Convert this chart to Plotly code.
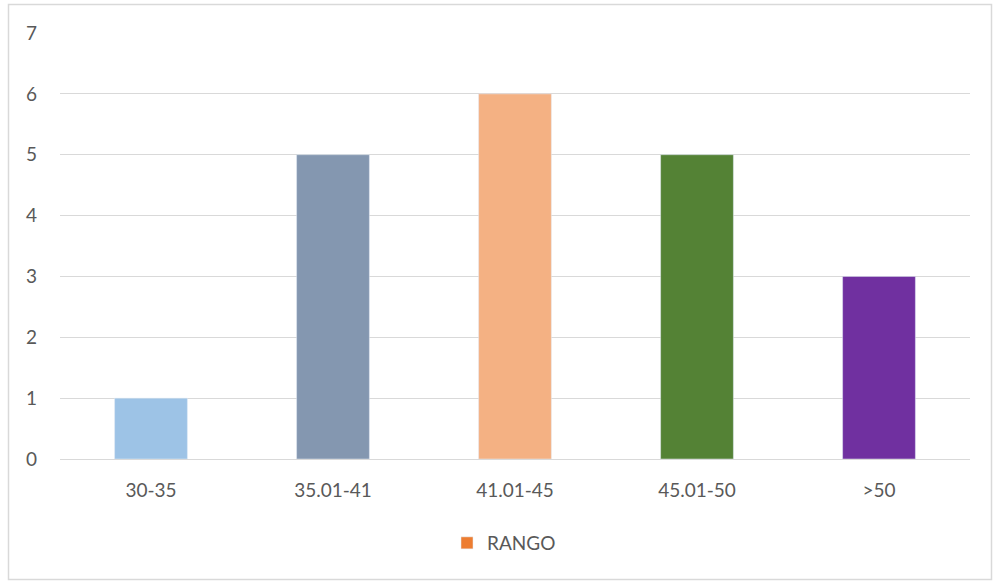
import plotly.graph_objects as go

categories = ["30-35", "35.01-41", "41.01-45", "45.01-50", ">50"]
values = [1, 5, 6, 5, 3]
bar_colors = ["#9DC3E6", "#8497B0", "#F4B183", "#548235", "#7030A0"]
series_name = "RANGO"
legend_color = "#ED7D31"

fig = go.Figure()
fig.add_trace(go.Bar(x=categories, y=values, marker_color=bar_colors,
                     width=0.4, showlegend=False))
fig.add_trace(go.Bar(x=[categories[0]], y=[None], name=series_name,
                     marker_color=legend_color, showlegend=True))

W, H = 994, 582
l, r, t, b = 60, 24, 33, 123
pw, ph = W - l - r, H - t - b

def px2x(px):
    return (px - l) / pw

def px2y(py):
    return (H - b - py) / ph

fig.add_shape(type="rect", xref="paper", yref="paper",
              x0=px2x(8.5), x1=px2x(991.5), y0=px2y(579.5), y1=px2y(4.5),
              line=dict(color="#D9D9D9", width=1.5), layer="below")

fig.update_layout(
    width=W, height=H,
    margin=dict(l=l, r=r, t=t, b=b),
    paper_bgcolor="white", plot_bgcolor="white",
    font=dict(family="Lato, 'Open Sans', sans-serif", size=19, color="#595959"),
    barmode="overlay",
    bargap=0.6,
    legend=dict(orientation="h", x=0.5 - 11 / pw, xanchor="center", y=px2y(543),
                yanchor="middle", font=dict(size=19, color="#595959"),
                itemwidth=30),
    xaxis=dict(showgrid=False, showline=True, linecolor="#D9D9D9",
               linewidth=1, ticks="", ticklabelstandoff=14, fixedrange=True),
    yaxis=dict(range=[0, 7], dtick=1, showgrid=True, gridcolor="#D9D9D9",
               gridwidth=1, zeroline=False, ticks="", showline=False,
               ticklabelstandoff=22, fixedrange=True),
)

fig.write_html("out.html",
               config={"displayModeBar": False},
               post_script="document.body.style.margin='0';document.body.style.overflow='hidden';")
